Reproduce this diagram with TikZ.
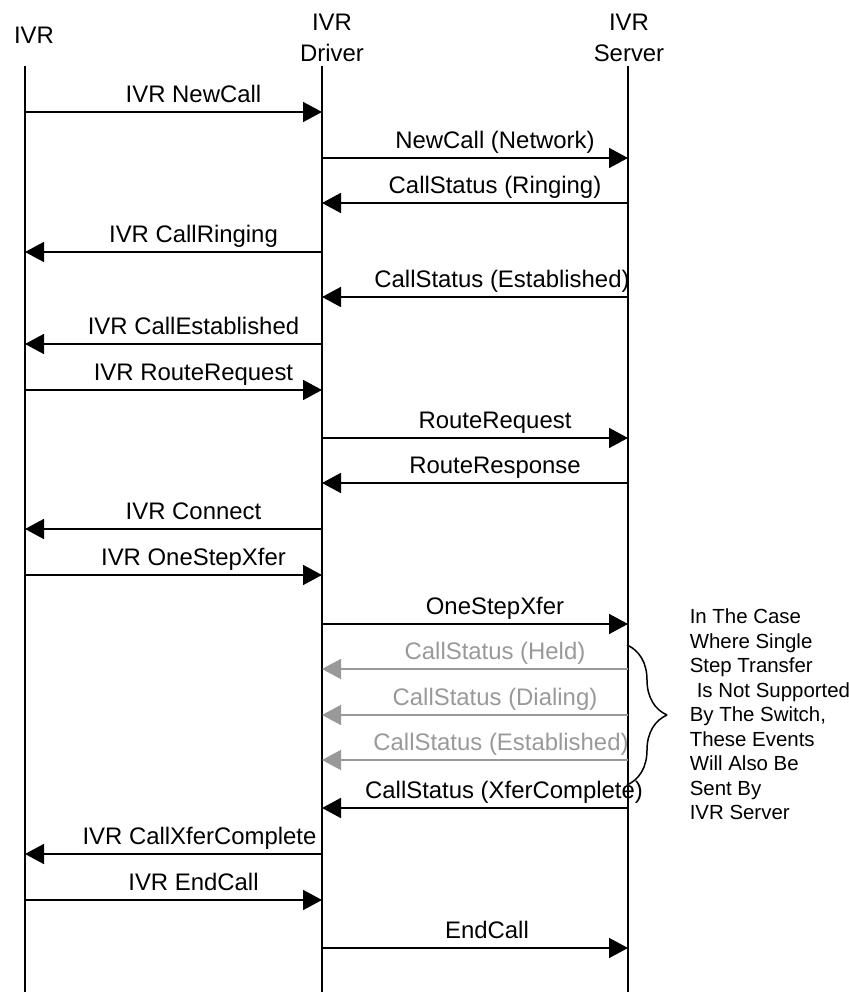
\documentclass[tikz,border=0pt]{standalone}
\usepackage{fontspec}
\setmainfont{Liberation Sans}
\usetikzlibrary{arrows.meta,decorations.pathreplacing}
\definecolor{faded}{rgb}{0.6,0.6,0.6}

\begin{document}
\begin{tikzpicture}[>={Triangle[length=19bp,width=20bp]},line join=bevel,
  head/.style={font=\fontsize{24}{31}\selectfont,align=center,inner sep=0pt},
  lbl/.style={font=\fontsize{24}{28}\selectfont,anchor=base,inner sep=0pt,yshift=9bp,xshift=20bp},
  muted/.style={draw=faded,text=faded},
  note/.style={font=\fontsize{20.5}{24.6}\selectfont,align=left,inner sep=0pt},
  bracket/.style={decorate,decoration={brace,amplitude=40bp},line width=1.5bp}]
  \pgfsetlinewidth{1.6bp}
  \useasboundingbox (0bp,0bp) rectangle (849bp,992bp);
%%
  % Node: heads
  \node[head,anchor=north] (ivrHead) at (34bp,966bp) {IVR};
  \node[head,anchor=north] (drvHead) at (332bp,979bp) {IVR\\Driver};
  \node[head,anchor=north] (srvHead) at (629bp,979bp) {IVR\\Server};
  % Lifelines
  \coordinate (ivr) at (25bp,926bp);
  \coordinate (drv) at (322bp,926bp);
  \coordinate (srv) at (628bp,926bp);
  \coordinate (ivrEnd) at (25bp,0bp);
  \coordinate (drvEnd) at (322bp,0bp);
  \coordinate (srvEnd) at (628bp,0bp);
  \draw (ivr) -- (ivrEnd);
  \draw (drv) -- (drvEnd);
  \draw (srv) -- (srvEnd);
  % Rows
  \coordinate (r1) at (0bp,880bp);
  \coordinate (r2) at (0bp,834bp);
  \coordinate (r3) at (0bp,789bp);
  \coordinate (r4) at (0bp,740bp);
  \coordinate (r5) at (0bp,695bp);
  \coordinate (r6) at (0bp,648bp);
  \coordinate (r7) at (0bp,602bp);
  \coordinate (r8) at (0bp,554bp);
  \coordinate (r9) at (0bp,509bp);
  \coordinate (r10) at (0bp,463bp);
  \coordinate (r11) at (0bp,417bp);
  \coordinate (r12) at (0bp,368bp);
  \coordinate (r13) at (0bp,323bp);
  \coordinate (r14) at (0bp,277bp);
  \coordinate (r15) at (0bp,232bp);
  \coordinate (r16) at (0bp,184bp);
  \coordinate (r17) at (0bp,138bp);
  \coordinate (r18) at (0bp,92bp);
  \coordinate (r19) at (0bp,44bp);
  % Edge: IVR -> Driver
  \draw [->] (ivr |- r1) -- (drv |- r1) node[midway,lbl] (l1) {IVR NewCall};
  % Edge: Driver -> Server
  \draw [->] (drv |- r2) -- (srv |- r2) node[midway,lbl] (l2) {NewCall (Network)};
  % Edge: Server -> Driver
  \draw [->] (srv |- r3) -- (drv |- r3) node[midway,lbl] (l3) {CallStatus (Ringing)};
  % Edge: Driver -> IVR
  \draw [->] (drv |- r4) -- (ivr |- r4) node[midway,lbl] (l4) {IVR CallRinging};
  % Edge: Server -> Driver
  \draw [->] (srv |- r5) -- (drv |- r5) node[midway,lbl,xshift=7bp] (l5) {CallStatus (Established)};
  % Edge: Driver -> IVR
  \draw [->] (drv |- r6) -- (ivr |- r6) node[midway,lbl] (l6) {IVR CallEstablished};
  % Edge: IVR -> Driver
  \draw [->] (ivr |- r7) -- (drv |- r7) node[midway,lbl] (l7) {IVR RouteRequest};
  % Edge: Driver -> Server
  \draw [->] (drv |- r8) -- (srv |- r8) node[midway,lbl] (l8) {RouteRequest};
  % Edge: Server -> Driver
  \draw [->] (srv |- r9) -- (drv |- r9) node[midway,lbl] (l9) {RouteResponse};
  % Edge: Driver -> IVR
  \draw [->] (drv |- r10) -- (ivr |- r10) node[midway,lbl] (l10) {IVR Connect};
  % Edge: IVR -> Driver
  \draw [->] (ivr |- r11) -- (drv |- r11) node[midway,lbl] (l11) {IVR OneStepXfer};
  % Edge: Driver -> Server
  \draw [->] (drv |- r12) -- (srv |- r12) node[midway,lbl] (l12) {OneStepXfer};
  % Edge: Server -> Driver (only without single step transfer)
  \draw [->,muted] (srv |- r13) -- (drv |- r13) node[midway,lbl] (l13) {CallStatus (Held)};
  \draw [->,muted] (srv |- r14) -- (drv |- r14) node[midway,lbl] (l14) {CallStatus (Dialing)};
  \draw [->,muted] (srv |- r15) -- (drv |- r15) node[midway,lbl,xshift=6bp] (l15) {CallStatus (Established)};
  % Edge: Server -> Driver
  \draw [->] (srv |- r16) -- (drv |- r16) node[midway,lbl,xshift=9bp] (l16) {CallStatus (XferComplete)};
  % Edge: Driver -> IVR
  \draw [->] (drv |- r17) -- (ivr |- r17) node[midway,lbl,xshift=6bp] (l17) {IVR CallXferComplete};
  % Edge: IVR -> Driver
  \draw [->] (ivr |- r18) -- (drv |- r18) node[midway,lbl] (l18) {IVR EndCall};
  % Edge: Driver -> Server
  \draw [->] (drv |- r19) -- (srv |- r19) node[midway,lbl,xshift=-8bp] (l19) {EndCall};
  % Node: note
  \coordinate (braceTop) at (627bp,347bp);
  \coordinate (braceBot) at (627bp,207bp);
  \draw [bracket] (braceTop) -- (braceBot);
  \node[note,anchor=north west] (note) at (689bp,384bp) {In The Case\\Where Single\\Step Transfer\\\hspace*{7bp}Is Not Supported\\By The Switch,\\These Events\\Will Also Be\\Sent By\\IVR Server};
%
\end{tikzpicture}
\end{document}
